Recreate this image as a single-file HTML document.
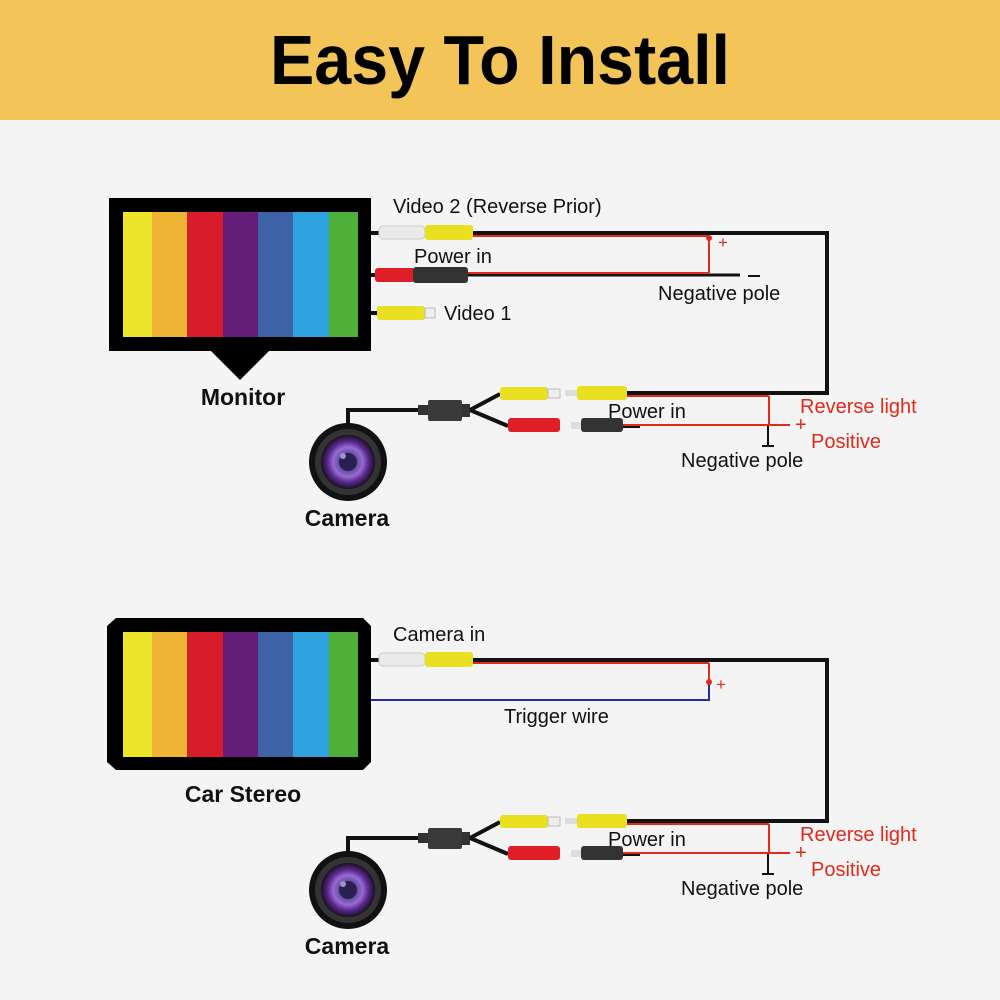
<!DOCTYPE html>
<html><head><meta charset="utf-8"><style>
html,body{margin:0;padding:0;background:#f4f4f4;}
svg{display:block;}
text{font-family:"Liberation Sans",sans-serif;}
</style></head><body>
<svg width="1000" height="1000" viewBox="0 0 1000 1000" xmlns="http://www.w3.org/2000/svg">
<defs>
<radialGradient id="lens" cx="50%" cy="50%" r="50%">
<stop offset="0" stop-color="#1a1030"/>
<stop offset="0.3" stop-color="#5a4aa0"/>
<stop offset="0.55" stop-color="#9a6ad0"/>
<stop offset="0.75" stop-color="#5a2a90"/>
<stop offset="1" stop-color="#1a1020"/>
</radialGradient>
<g id="bars">
<rect x="0" y="0" width="29" height="125" fill="#ece52a"/>
<rect x="29" y="0" width="35" height="125" fill="#efb433"/>
<rect x="64" y="0" width="36" height="125" fill="#d91c2c"/>
<rect x="100" y="0" width="35" height="125" fill="#641d78"/>
<rect x="135" y="0" width="35" height="125" fill="#3e62a8"/>
<rect x="170" y="0" width="36" height="125" fill="#2ea2df"/>
<rect x="206" y="0" width="29" height="125" fill="#4fb039"/>
</g>
<g id="cam">
<polyline points="348,430 348,410 420,410" fill="none" stroke="#111" stroke-width="4"/>
<rect x="418" y="405" width="10" height="10" fill="#333"/>
<rect x="428" y="400" width="34" height="21" rx="2" fill="#3a3a3a"/>
<rect x="462" y="404" width="8" height="13" fill="#333"/>
<path d="M470,410 L500,394 M470,410 L508,426" stroke="#111" stroke-width="4" fill="none"/>
<rect x="500" y="387" width="48" height="13" rx="3" fill="#e8e020"/>
<rect x="548" y="389" width="12" height="9" fill="#eee" stroke="#bbb"/>
<rect x="508" y="418" width="52" height="14" rx="3" fill="#e01e28"/>
<rect x="565" y="390" width="12" height="6" fill="#ddd"/>
<rect x="577" y="386" width="50" height="14" rx="3" fill="#e8e020"/>
<rect x="571" y="422" width="10" height="7" fill="#ddd"/>
<rect x="581" y="418" width="42" height="14" rx="3" fill="#333"/>
<line x1="627" y1="393" x2="829" y2="393" stroke="#111" stroke-width="4"/>
<line x1="627" y1="396" x2="769" y2="396" stroke="#e02a1a" stroke-width="2"/>
<line x1="623" y1="425" x2="790" y2="425" stroke="#e02a1a" stroke-width="2"/>
<line x1="623" y1="427" x2="640" y2="427" stroke="#111" stroke-width="2"/>
<line x1="769" y1="396" x2="769" y2="425" stroke="#e02a1a" stroke-width="2"/>
<line x1="768" y1="426" x2="768" y2="446" stroke="#111" stroke-width="2"/>
<line x1="762" y1="446" x2="774" y2="446" stroke="#111" stroke-width="2"/>
<circle cx="348" cy="462" r="39" fill="#111"/>
<circle cx="348" cy="462" r="33" fill="#333"/>
<circle cx="348" cy="462" r="27" fill="url(#lens)"/>
<circle cx="348" cy="462" r="9" fill="#2a2050"/>
<circle cx="343" cy="456" r="3" fill="#a090d0"/>
<text x="608" y="418" font-size="20" fill="#111">Power in</text>
<text x="800" y="413" font-size="20" fill="#e02a1a">Reverse light</text>
<text x="795" y="431" font-size="20" fill="#e02a1a">+</text>
<text x="811" y="448" font-size="20" fill="#e02a1a">Positive</text>
<text x="681" y="467" font-size="20" fill="#111">Negative pole</text>
<text x="347" y="526" font-size="23" font-weight="bold" fill="#111" text-anchor="middle">Camera</text>
</g>
</defs>
<rect x="0" y="0" width="1000" height="120" fill="#f3c558"/>
<text x="500" y="84" font-size="70" font-weight="bold" fill="#000" text-anchor="middle" textLength="460" lengthAdjust="spacingAndGlyphs">Easy To Install</text>

<rect x="109" y="198" width="262" height="153" fill="#000"/>
<polygon points="210,350 270,350 240,380" fill="#000"/>
<use href="#bars" x="123" y="212"/>
<text x="243" y="405" font-size="23" font-weight="bold" fill="#111" text-anchor="middle">Monitor</text>

<rect x="371" y="231" width="8" height="4" fill="#111"/>
<rect x="379" y="226" width="46" height="13" rx="4" fill="#eaeaea" stroke="#ccc"/>
<rect x="425" y="225" width="48" height="15" rx="3" fill="#e8e020"/>
<line x1="473" y1="233" x2="829" y2="233" stroke="#111" stroke-width="4"/>
<line x1="473" y1="236" x2="709" y2="236" stroke="#e02a1a" stroke-width="2"/>
<line x1="709" y1="236" x2="709" y2="273" stroke="#e02a1a" stroke-width="2"/>
<circle cx="709" cy="238" r="3" fill="#e02a1a"/>
<text x="718" y="248" font-size="17" fill="#e02a1a">+</text>
<line x1="827" y1="231" x2="827" y2="395" stroke="#111" stroke-width="4"/>

<rect x="371" y="273" width="6" height="4" fill="#111"/>
<rect x="375" y="268" width="40" height="14" rx="3" fill="#e01e28"/>
<rect x="413" y="267" width="55" height="16" rx="3" fill="#333"/>
<line x1="468" y1="275" x2="740" y2="275" stroke="#111" stroke-width="3"/>
<line x1="468" y1="273" x2="709" y2="273" stroke="#e02a1a" stroke-width="2"/>
<line x1="748" y1="276" x2="760" y2="276" stroke="#111" stroke-width="2"/>
<text x="414" y="263" font-size="20" fill="#111">Power in</text>
<text x="658" y="300" font-size="20" fill="#111">Negative pole</text>

<rect x="371" y="311" width="6" height="4" fill="#111"/>
<rect x="377" y="306" width="48" height="14" rx="3" fill="#e8e020"/>
<rect x="425" y="308" width="10" height="10" fill="#eee" stroke="#bbb"/>
<text x="444" y="320" font-size="20" fill="#111">Video 1</text>
<text x="393" y="213" font-size="20" fill="#111">Video 2 (Reverse Prior)</text>

<use href="#cam"/>

<polygon points="116,618 363,618 371,626 371,762 363,770 116,770 107,762 107,626" fill="#000"/>
<use href="#bars" x="123" y="632"/>
<text x="243" y="802" font-size="23" font-weight="bold" fill="#111" text-anchor="middle">Car Stereo</text>

<rect x="371" y="658" width="8" height="4" fill="#111"/>
<rect x="379" y="653" width="46" height="13" rx="4" fill="#eaeaea" stroke="#ccc"/>
<rect x="425" y="652" width="48" height="15" rx="3" fill="#e8e020"/>
<line x1="473" y1="660" x2="829" y2="660" stroke="#111" stroke-width="4"/>
<line x1="473" y1="663" x2="709" y2="663" stroke="#e02a1a" stroke-width="2"/>
<line x1="709" y1="663" x2="709" y2="682" stroke="#e02a1a" stroke-width="2"/>
<line x1="709" y1="682" x2="709" y2="700" stroke="#2a2a9a" stroke-width="2"/>
<line x1="371" y1="700" x2="710" y2="700" stroke="#2a2a9a" stroke-width="2"/>
<circle cx="709" cy="682" r="3" fill="#e02a1a"/>
<text x="716" y="690" font-size="17" fill="#e02a1a">+</text>
<line x1="827" y1="658" x2="827" y2="823" stroke="#111" stroke-width="4"/>
<text x="393" y="641" font-size="20" fill="#111">Camera in</text>
<text x="504" y="723" font-size="20" fill="#111">Trigger wire</text>

<use href="#cam" y="428"/>
</svg>
</body></html>
